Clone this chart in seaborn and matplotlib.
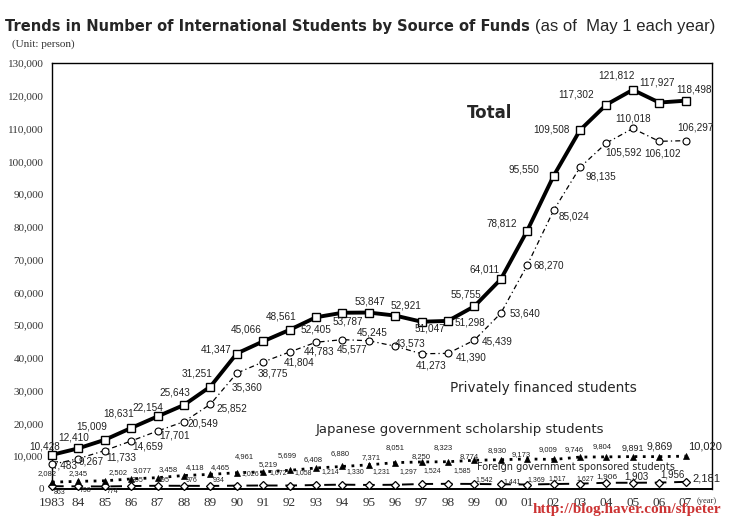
import numpy as np
import pandas as pd
import matplotlib
matplotlib.use('Agg')
import matplotlib.pyplot as plt
import seaborn as sns

# data (persons, as of May 1 each year)
years = list(range(1983, 2008))
year_labels = ['1983', '84', '85', '86', '87', '88', '89', '90', '91', '92', '93',
               '94', '95', '96', '97', '98', '99', '00', '01', '02', '03', '04',
               '05', '06', '07']
total = [10428, 12410, 15009, 18631, 22154, 25643, 31251, 41347, 45066, 48561,
         52405, 53787, 53847, 52921, 51047, 51298, 55755, 64011, 78812, 95550,
         109508, 117302, 121812, 117927, 118498]
private = [7483, 9267, 11733, 14659, 17701, 20549, 25852, 35360, 38775, 41804,
           44783, 45577, 45245, 43573, 41273, 41390, 45439, 53640, 68270, 85024,
           98135, 105592, 110018, 106102, 106297]
japan_gov = [2082, 2345, 2502, 3077, 3458, 4118, 4465, 4961, 5219, 5699, 6408,
             6880, 7371, 8051, 8250, 8323, 8774, 8930, 9173, 9009, 9746, 9804,
             9891, 9869, 10020]
foreign_gov = [863, 798, 774, 895, 995, 976, 934, 1026, 1072, 1058, 1214, 1330,
               1231, 1297, 1524, 1585, 1542, 1441, 1369, 1517, 1627, 1906, 1903,
               1956, 2181]

df = pd.DataFrame({'year': years, 'total': total, 'private': private,
                   'japan': japan_gov, 'foreign': foreign_gov})

# label offsets (pixels) for the value labels
total_off = [(-7, 8), (-5, 11), (-13, 13), (-13, 14), (-10, 9), (-9, 12), (-13, 13),
             (-21, 4), (-17, 12), (-8, 13), (0, -12), (5, -9), (1, 11), (11, 10),
             (8, -7), (22, -2), (-8, 12), (-16, 10), (-25, 7), (-30, 6), (-29, 1),
             (-30, 10), (-16, 14), (-2, 20), (8, 11)]
private_off = [(13, -1), (13, -3), (16, -7), (17, -6), (17, -5), (19, -2), (21, -4),
               (10, -14), (10, -12), (10, -10), (3, -9), (10, -10), (3, 8), (15, 3),
               (10, -12), (23, -4), (23, -1), (24, 0), (22, 0), (20, -6), (21, -9),
               (17, -10), (0, 10), (3, -12), (10, 13)]
japan_off = [(-5, 9), (0, 8), (13, 8), (11, 8), (11, 8), (11, 8), (10, 7), (8, 16),
             (5, 7), (-2, 15), (-3, 8), (-2, 13), (2, 7), (0, 15), (0, 5), (-5, 14),
             (-5, 4), (-4, 9), (-6, 4), (-6, 10), (-6, 8), (-4, 10), (0, 8), (0, 10),
             (19, 10)]
foreign_off = [(8, -6), (7, -4), (8, -5), (6, 6), (6, 5), (8, 5), (8, 5), (13, 12),
               (15, 13), (14, 13), (14, 13), (13, 13), (13, 13), (13, 13), (11, 13),
               (14, 13), (10, 4), (11, 3), (9, 5), (4, 5), (5, 5), (1, 6), (4, 6),
               (13, 8), (21, 3)]
japan_size = [5.5] * 22 + [6.5, 7.5, 8]
foreign_size = [5] * 21 + [6, 7, 7, 8]

sns.set_style('white')
plt.rcParams['font.family'] = ['DejaVu Sans']
LABEL_FONT = ['Liberation Sans']
SERIF = ['Liberation Serif', 'DejaVu Serif']

W, H = 740, 524
fig = plt.figure(figsize=(W / 100, H / 100), dpi=100)
ax = fig.add_axes([52 / W, 1 - 489 / H, (712 - 52) / W, (489 - 63) / H])

sns.lineplot(data=df, x='year', y='foreign', ax=ax, color='black', linewidth=1.4,
             linestyle=(0, (6, 4)), marker='D', markersize=4,
             markerfacecolor='white', markeredgecolor='black',
             markeredgewidth=0.9, clip_on=False, zorder=3)
sns.lineplot(data=df, x='year', y='japan', ax=ax, color='black', linewidth=2,
             linestyle=(0, (1, 2)), marker='^', markersize=4,
             markerfacecolor='black', markeredgecolor='black',
             markeredgewidth=0.5, clip_on=False, zorder=3)
sns.lineplot(data=df, x='year', y='private', ax=ax, color='black', linewidth=0.9,
             linestyle=(0, (4, 2.5, 1, 2.5)), marker='o', markersize=5,
             markerfacecolor='white', markeredgecolor='black',
             markeredgewidth=0.8, clip_on=False, zorder=4)
sns.lineplot(data=df, x='year', y='total', ax=ax, color='black', linewidth=2.8,
             marker='s', markersize=6, markerfacecolor='white',
             markeredgecolor='black', markeredgewidth=1, clip_on=False, zorder=5)

ax.set_xlim(1983, 2008)
ax.set_ylim(0, 130000)
ax.set_xlabel('')
ax.set_ylabel('')
yt = list(range(0, 130001, 10000))
ax.set_yticks(yt)
ax.set_yticklabels([f'{v:,}' for v in yt], fontfamily=SERIF, fontsize=8, color='#333')
ax.set_xticks(years)
ax.set_xticklabels(year_labels, fontfamily=SERIF, fontsize=9.5, color='#333')
ax.tick_params(axis='y', direction='out', length=4, width=0.8, pad=2)
ax.tick_params(axis='x', direction='inout', length=6, width=0.8, pad=3)
for s in ax.spines.values():
    s.set_color('black')
    s.set_linewidth(1)
ax.spines['bottom'].set_linewidth(1.4)


def put_labels(values, offsets, sizes):
    if np.isscalar(sizes):
        sizes = [sizes] * len(values)
    for yr, v, (dx, dy), fs in zip(years, values, offsets, sizes):
        ax.annotate(f'{v:,}', (yr, v), xytext=(dx, dy), textcoords='offset pixels',
                    ha='center', va='center', fontsize=fs, family=LABEL_FONT,
                    color='#222', zorder=6)


put_labels(total, total_off, 7.2)
put_labels(private, private_off, 7.2)
put_labels(japan_gov, japan_off, japan_size)
put_labels(foreign_gov, foreign_off, foreign_size)

# series names
fig.text(467 / W, 1 - 113 / H, 'Total', fontsize=12, fontweight='bold', va='center')
fig.text(450 / W, 1 - 388 / H, 'Privately financed students', fontsize=9.8, va='center')
fig.text(316 / W, 1 - 430 / H, 'Japanese government scholarship students',
         fontsize=9.5, va='center')
fig.text(477 / W, 1 - 467 / H, 'Foreign government sponsored students',
         fontsize=7, va='center')

# titles and notes
fig.text(5 / W, 1 - 31 / H, 'Trends in Number of International Students by Source of Funds',
         fontsize=10.5, fontweight='bold', va='baseline')
fig.text(535 / W, 1 - 31 / H, '(as of  May 1 each year)', fontsize=12,
         family=['Liberation Sans'], va='baseline')
fig.text(12 / W, 1 - 47 / H, '(Unit: person)', fontsize=8, family=SERIF,
         color='#333', va='baseline')
fig.text(697 / W, 1 - 501 / H, '(year)', fontsize=6, family=SERIF, color='#333',
         va='center')
fig.text(533 / W, 1 - 509 / H, 'http://blog.haver.com/sfpeter', fontsize=11,
         family=SERIF, fontweight='bold', color='#cc3333', va='center')

fig.savefig('out.png', dpi=100)
